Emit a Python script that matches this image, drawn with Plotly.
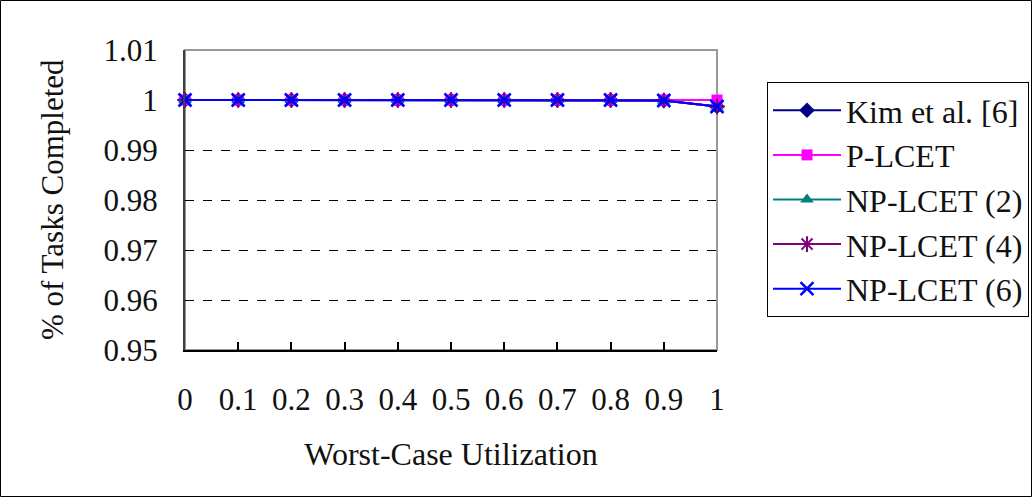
import plotly.graph_objects as go

x_vals = [0, 0.1, 0.2, 0.3, 0.4, 0.5, 0.6, 0.7, 0.8, 0.9, 1.0]
x_labels = ["0", "0.1", "0.2", "0.3", "0.4", "0.5", "0.6", "0.7", "0.8", "0.9", "1"]

kim = [1, 1, 1, 1, 1, 1, 1, 1, 1, 0.9999, 0.9987]
p_lcet = [1, 1, 1, 1, 1, 1, 1, 1, 1, 1, 1]
np_lcet2 = [1, 1, 1, 1, 1, 1, 1, 1, 1, 0.9999, 0.9987]
np_lcet4 = [1, 1, 1, 1, 1, 1, 1, 1, 1, 0.9999, 0.9987]
np_lcet6 = [1, 1, 1, 1, 1, 1, 1, 1, 1, 0.9999, 0.9987]

y_ticks = [0.95, 0.96, 0.97, 0.98, 0.99, 1.0, 1.01]
y_labels = ["0.95", "0.96", "0.97", "0.98", "0.99", "1", "1.01"]

W, H = 1032, 497
ML, MR, MT, MB = 185, 315, 50, 147
FONT = "Liberation Serif"

series = [
    ("Kim et al. [6]", kim, "#000080", "diamond", 12, 0),
    ("P-LCET", p_lcet, "#FF00FF", "square", 11, 0),
    ("NP-LCET (2)", np_lcet2, "#008080", "triangle-up", 12, 0),
    ("NP-LCET (4)", np_lcet4, "#800080", "asterisk-open", 13, 2),
    ("NP-LCET (6)", np_lcet6, "#0000FF", "x-thin-open", 13, 2.5),
]

fig = go.Figure()
for name, ys, col, sym, sz, lw in series:
    fig.add_trace(go.Scatter(
        x=x_vals, y=ys, name=name, mode="lines+markers",
        line=dict(color=col, width=2),
        marker=dict(symbol=sym, size=sz, color=col, line=dict(color=col, width=lw)),
        cliponaxis=False,
    ))

pw = W - ML - MR
ph = H - MT - MB

shapes = [
    dict(type="rect", xref="x domain", yref="y domain", x0=0, x1=1, y0=0, y1=1,
         line=dict(color="#999999", width=2), layer="below"),
    dict(type="rect", xref="paper", yref="paper",
         x0=(-ML + 0.5) / pw, x1=(W - ML - 0.5) / pw,
         y0=(-MB + 0.5) / ph, y1=(H - MB - 0.5) / ph,
         line=dict(color="black", width=1)),
]

fig.update_layout(
    width=W, height=H,
    margin=dict(l=ML, r=MR, t=MT, b=MB, pad=0, autoexpand=False),
    paper_bgcolor="white", plot_bgcolor="white",
    font=dict(family=FONT, size=31, color="#111111"),
    showlegend=True,
    legend=dict(
        xref="container", yref="container",
        x=767 / W, y=1 - 82 / H, xanchor="left", yanchor="top",
        bordercolor="black", borderwidth=1, bgcolor="white",
        font=dict(family=FONT, size=32), itemwidth=68, tracegroupgap=0,
    ),
    shapes=shapes,
    annotations=[dict(
        text="% of Tasks Completed", textangle=-90, showarrow=False,
        xref="paper", yref="paper", x=(52 - ML) / pw, y=0.5,
        xanchor="center", yanchor="middle", font=dict(family=FONT, size=31),
    )],
)

fig.update_xaxes(
    range=[0, 1], tickmode="array", tickvals=x_vals, ticktext=x_labels,
    showgrid=False, zeroline=False, showline=True, linecolor="black", linewidth=2,
    ticks="inside", ticklen=8, tickcolor="black", tickwidth=1.5,
    ticklabelstandoff=21, automargin=True,
    title=dict(text="Worst-Case Utilization", standoff=26, font=dict(size=32)),
)
fig.update_yaxes(
    range=[0.95, 1.01], tickmode="array", tickvals=y_ticks, ticktext=y_labels,
    showgrid=True, gridcolor="black", gridwidth=1, griddash="dash",
    zeroline=False, showline=True, linecolor="#404040", linewidth=2,
    ticks="", ticklabelstandoff=19, automargin=True,
)

fig.write_html("out.html")
